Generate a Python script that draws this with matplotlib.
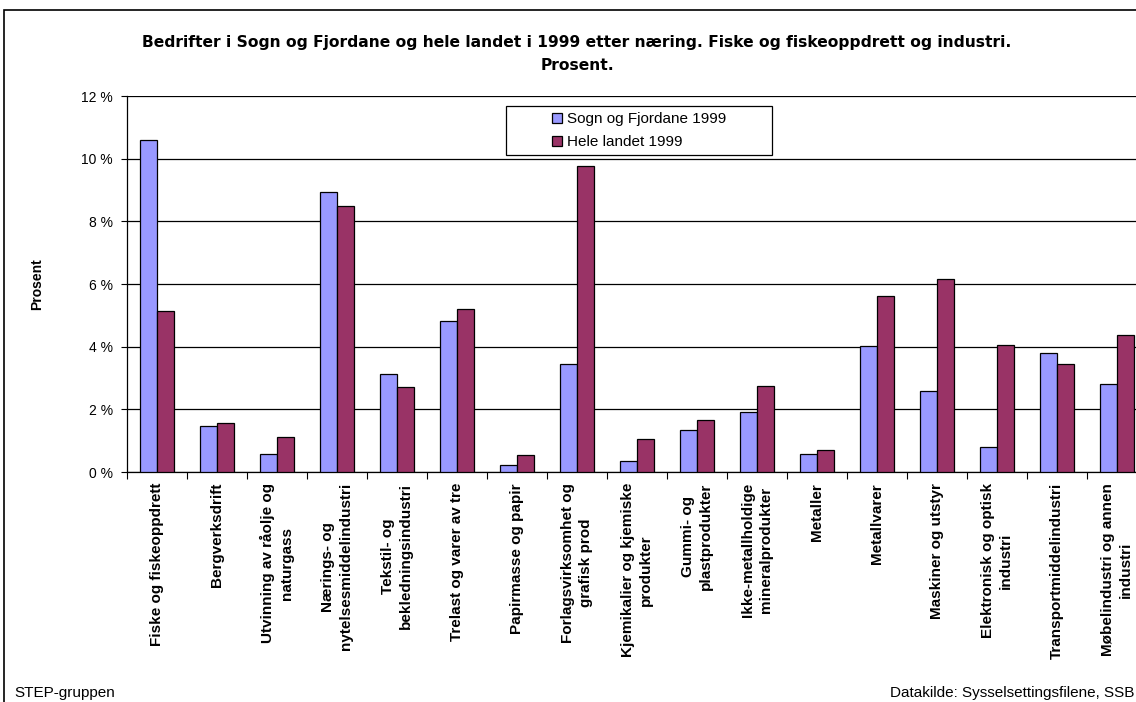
import matplotlib
matplotlib.use("Agg")
import matplotlib.pyplot as plt
import numpy as np
from matplotlib.patches import Rectangle
from matplotlib.ticker import FixedLocator, FuncFormatter

plt.rcParams['font.family'] = ['Liberation Sans', 'DejaVu Sans']

categories = [
    "Fiske og fiskeoppdrett",
    "Bergverksdrift",
    "Utvinning av råolje og\nnaturgass",
    "Nærings- og\nnytelsesmiddelindustri",
    "Tekstil- og\nbekledningsindustri",
    "Trelast og varer av tre",
    "Papirmasse og papir",
    "Forlagsvirksomhet og\ngrafisk prod",
    "Kjemikalier og kjemiske\nprodukter",
    "Gummi- og\nplastprodukter",
    "Ikke-metallholdige\nmineralprodukter",
    "Metaller",
    "Metallvarer",
    "Maskiner og utstyr",
    "Elektronisk og optisk\nindustri",
    "Transportmiddelindustri",
    "Møbelindustri og annen\nindustri",
]
sogn = [10.61, 1.46, 0.56, 8.94, 3.14, 4.81, 0.22, 3.46, 0.34, 1.34, 1.90, 0.56, 4.02, 2.57, 0.79, 3.80, 2.80]
hele = [5.14, 1.57, 1.12, 8.50, 2.72, 5.19, 0.54, 9.77, 1.06, 1.67, 2.74, 0.69, 5.61, 6.16, 4.05, 3.45, 4.38]
series_names = ["Sogn og Fjordane 1999", "Hele landet 1999"]
yticks = [0, 2, 4, 6, 8, 10, 12]

W, H = 1136, 702
fig = plt.figure(figsize=(W / 100, H / 100), dpi=100)

# outer frame
fig.patches.append(Rectangle((4 / W, -0.05), 1.1, 1 - 10 / H + 0.05, transform=fig.transFigure,
                             fill=False, edgecolor='black', linewidth=1.2, zorder=0))

left, right, top, bottom = 127, 127 + 60 * 17, 96, 472
ax = fig.add_axes([left / W, 1 - bottom / H, (right - left) / W, (bottom - top) / H])

def fx(px):
    return (px - left) / (right - left)

def fy(py):
    return 1 - (py - top) / (bottom - top)

n = len(categories)
x = np.arange(n)
bw = 0.29
ax.bar(x - bw / 2, sogn, width=bw, color='#9999FF', edgecolor='black', linewidth=0.9,
       label=series_names[0], zorder=3)
ax.bar(x + bw / 2, hele, width=bw, color='#993366', edgecolor='black', linewidth=0.9,
       label=series_names[1], zorder=3)

ax.set_xlim(-0.5, n - 0.5)
ax.set_ylim(0, 12)
ax.set_yticks(yticks)
ax.yaxis.set_major_formatter(FuncFormatter(lambda v, p: f"{int(round(v))} %"))
ax.tick_params(axis='y', direction='out', length=4, width=0.8, labelsize=10, pad=6)
ax.yaxis.grid(True, color='black', linewidth=0.9, zorder=1)
ax.set_axisbelow(True)

ax.xaxis.set_major_locator(FixedLocator(np.arange(n + 1) - 0.5))
ax.xaxis.set_minor_locator(FixedLocator(x))
ax.tick_params(axis='x', which='major', direction='out', length=5, width=0.8, labelbottom=False)
ax.tick_params(axis='x', which='minor', length=0, pad=8)
ax.set_xticks(x, minor=True)
ax.set_xticklabels(categories, minor=True, rotation=90, ha='center', va='top',
                   fontsize=11, fontweight='bold', multialignment='center', linespacing=1.4)

for s in ['top', 'right']:
    ax.spines[s].set_visible(False)
ax.spines['left'].set_linewidth(0.9)
ax.spines['bottom'].set_linewidth(0.9)

ax.set_ylabel("Prosent", fontsize=10, fontweight='bold', labelpad=0)
ax.yaxis.set_label_coords(fx(44), 0.5)

# legend frame (Excel style, generous horizontal padding)
ax.add_patch(Rectangle((fx(506), fy(155)), fx(772) - fx(506), fy(106) - fy(155),
                       transform=ax.transAxes, facecolor='white', edgecolor='black',
                       linewidth=0.9, zorder=4, clip_on=False))
leg = ax.legend(loc='upper left', bbox_to_anchor=(fx(552), fy(112)),
                frameon=False, fontsize=11,
                handlelength=0.65, handleheight=0.65, handletextpad=0.3, borderpad=0,
                labelspacing=0.62, borderaxespad=0)
leg.set_zorder(5)

fig.text(577 / W, 1 - 43 / H, "Bedrifter i Sogn og Fjordane og hele landet i 1999 etter næring. Fiske og fiskeoppdrett og industri.",
         ha='center', va='center', fontsize=11.2, fontweight='bold', family=['DejaVu Sans'])
fig.text(577 / W, 1 - 65 / H, "Prosent.", ha='center', va='center', fontsize=11.2, fontweight='bold',
         family=['DejaVu Sans'])

fig.text(14 / W, 1 - 693 / H, "STEP-gruppen", ha='left', va='center', fontsize=11)
fig.text(890 / W, 1 - 693 / H, "Datakilde: Sysselsettingsfilene, SSB", ha='left', va='center', fontsize=11)

fig.savefig("out.png", dpi=100)
